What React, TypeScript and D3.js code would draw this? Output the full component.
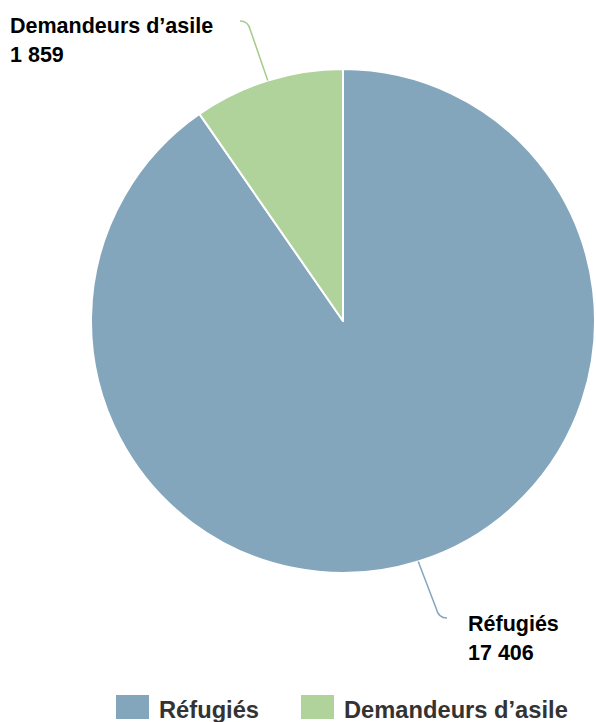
import React from "react";
import * as d3 from "d3";

const categories = ["Réfugiés", "Demandeurs d’asile"];
const values = [17406, 1859];
const valueLabels = ["17 406", "1 859"];
const colors = ["#84a6bd", "#b0d29b"];
const lineColors = ["#84a6bd", "#a5cc8c"];

export default function App() {
  const W = 596, H = 722;
  const cx = 343, cy = 321, r = 252;
  const data = categories.map((c, i) => ({ c, v: values[i], i }));
  const pie = d3.pie<any>().sort(null).value((d) => d.v);
  const arcs = pie(data);
  const arc = d3.arc<any>().innerRadius(0).outerRadius(r);

  const labelPos = [
    { x: 468, y: 631, end: [447, 618] },
    { x: 10, y: 33, end: [240, 21] },
  ];

  return (
    <svg width={W} height={H} style={{ position: "absolute", left: 0, top: 0, fontFamily: "'Liberation Sans', Arial, sans-serif" }}>
      <g transform={`translate(${cx},${cy})`}>
        {arcs.map((a, i) => (
          <path key={i} d={arc(a) || ""} fill={colors[i]} stroke="#fff" strokeWidth={2} strokeLinejoin="round" />
        ))}
      </g>
      {arcs.map((a, i) => {
        const mid = (a.startAngle + a.endAngle) / 2;
        const sx = cx + r * Math.sin(mid);
        const sy = cy - r * Math.cos(mid);
        const [ex, ey] = labelPos[i].end;
        const bx = sx + (ex - sx) * 0.7 + (i === 1 ? 2 : -2);
        const by = ey + (i === 1 ? 9 : -9);
        const path = d3.path();
        path.moveTo(sx, sy);
        path.lineTo(bx, by);
        path.quadraticCurveTo(bx + (i === 1 ? -2 : 2), ey, ex, ey);
        return <path key={"l" + i} d={path.toString()} fill="none" stroke={lineColors[i]} strokeWidth={1.5} />;
      })}
      {categories.map((c, i) => (
        <text key={"t" + i} x={labelPos[i].x} y={labelPos[i].y} fontSize={21.5} fontWeight="bold" fill="#000">
          <tspan x={labelPos[i].x}>{c}</tspan>
          <tspan x={labelPos[i].x} dy={28.5}>{valueLabels[i]}</tspan>
        </text>
      ))}
      {categories.map((c, i) => {
        const lx = [116, 301][i];
        return (
          <g key={"lg" + i}>
            <rect x={lx} y={695} width={33} height={24} fill={colors[i]} />
            <text x={lx + 43} y={718} fontSize={23.7} fontWeight="bold" fill="#333">{c}</text>
          </g>
        );
      })}
    </svg>
  );
}
